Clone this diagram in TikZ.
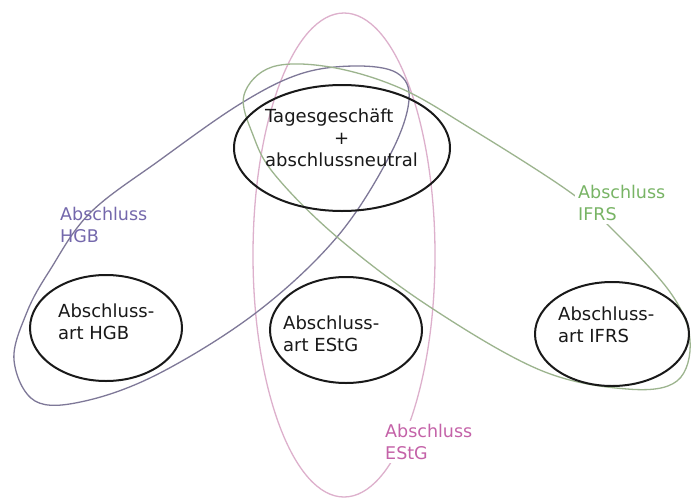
\documentclass[tikz,border=0pt]{standalone}
\usepackage{fontspec}
\setmainfont{DejaVu Sans}
\usetikzlibrary{shapes.geometric}
\definecolor{hgbline}{HTML}{7E7898}
\definecolor{hgbtext}{HTML}{7468AC}
\definecolor{ifrsline}{HTML}{9CB48E}
\definecolor{ifrstext}{HTML}{78B465}
\definecolor{estgline}{HTML}{DDB0CC}
\definecolor{estgtext}{HTML}{C462A8}
\begin{document}
\begin{tikzpicture}[x=1pt,y=-1pt,
  txt/.style={font=\fontsize{18}{22}\selectfont, align=left, inner sep=0pt, anchor=west, text=black!90},
  blackell/.style={draw=black!90, line width=2pt, ellipse, inner sep=0pt},
  loopline/.style={line width=1.3pt},
  lab/.style={font=\fontsize{17.5}{22}\selectfont, align=left, anchor=west, inner sep=3pt}
]
\useasboundingbox (0,0) rectangle (691,501);
\fill[white] (0,0) rectangle (691,501);
% EStG loop
\draw[estgline, loopline] (344,255) ellipse [x radius=91, y radius=242];
% HGB loop
\draw[hgbline, loopline] plot[smooth cycle, tension=0.6] coordinates {
  (14,360) (27,312) (50,270) (90,213) (160,160) (240,104) (300,74) (355,66)
  (397,73) (409,100) (390,155) (337,237) (257,312) (160,373) (85,401) (35,401)};
% IFRS loop
\draw[ifrsline, loopline] plot[smooth cycle, tension=0.6] coordinates {
  (244,95) (253,135) (275,175) (337,237) (430,307) (540,370) (627,389)
  (677,381) (690,340) (670,292) (610,227) (567,190) (470,128) (400,88)
  (330,67) (272,67)};
% loop labels
\node[lab, text=hgbtext, inner sep=0pt] (labhgb) at (60,225) {Abschluss\\HGB};
\node[lab, text=ifrstext, fill=white] (labifrs) at (575,203) {Abschluss\\IFRS};
\node[lab, text=estgtext, fill=white] (labestg) at (382,442) {Abschluss\\EStG};
% black ellipses
\node[blackell, minimum width=216pt, minimum height=126pt] (top) at (342,148) {};
\node[blackell, minimum width=152pt, minimum height=106pt] (hgb) at (106,328) {};
\node[blackell, minimum width=152pt, minimum height=106pt] (estg) at (346,330) {};
\node[blackell, minimum width=154pt, minimum height=104pt] (ifrs) at (612,334) {};
% texts
\node[txt] (toptext) at (265,140) {\begin{tabular}{@{}l@{}}Tagesgeschäft\\\multicolumn{1}{@{}c@{}}{+}\\abschlussneutral\end{tabular}};
\node[txt] (hgbtext) at (58,322) {Abschluss-\\art HGB};
\node[txt] (estgtext) at (283,334) {Abschluss-\\art EStG};
\node[txt] (ifrstext) at (558,325) {Abschluss-\\art IFRS};
\end{tikzpicture}
\end{document}
